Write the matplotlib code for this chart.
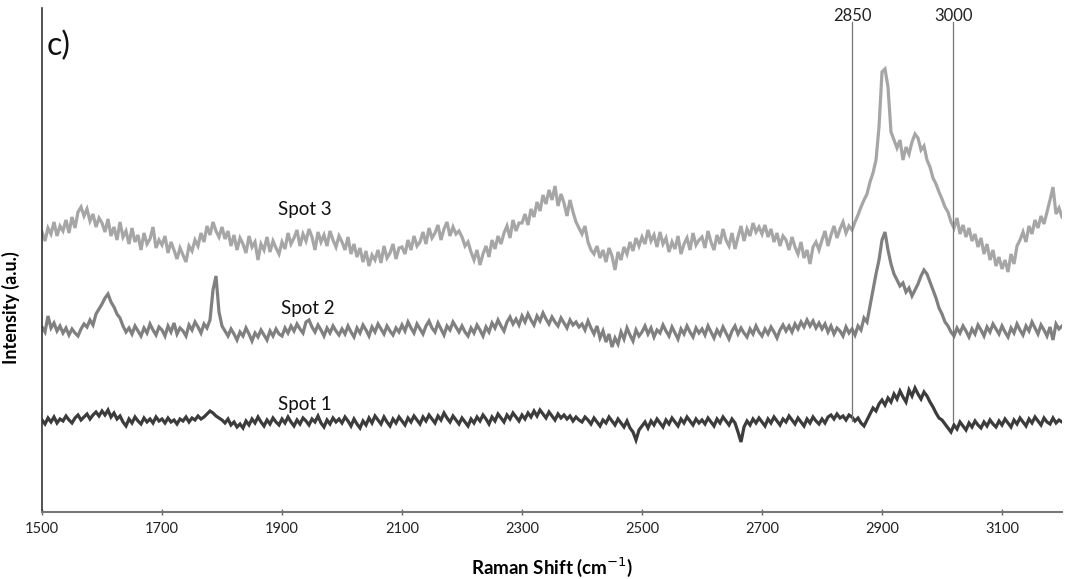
import numpy as np
import matplotlib
matplotlib.use("Agg")
import matplotlib.pyplot as plt

plt.rcParams['font.family'] = ['Lato', 'DejaVu Sans']

shift_start, shift_step = 1500, 5

spot3 = [
    280, 271, 284, 278, 290, 276, 286, 281, 292, 279, 295, 284, 300, 305, 296, 303, 291, 298, 285, 294,
    289, 280, 293, 276, 285, 272, 290, 275, 281, 268, 284, 270, 277, 262, 279, 268, 273, 285, 264, 272,
    267, 276, 259, 270, 262, 253, 264, 257, 250, 266, 261, 272, 266, 279, 270, 286, 277, 290, 281, 275,
    285, 273, 281, 266, 277, 262, 274, 268, 259, 276, 265, 270, 252, 268, 262, 275, 260, 271, 264, 258,
    270, 263, 279, 268, 274, 282, 266, 278, 271, 283, 275, 262, 280, 270, 277, 266, 281, 272, 265, 276,
    270, 262, 275, 258, 268, 255, 264, 250, 261, 246, 257, 252, 262, 249, 266, 254, 259, 268, 253, 264,
    265, 258, 272, 262, 276, 266, 270, 280, 268, 284, 274, 279, 287, 272, 283, 290, 276, 285, 278, 281,
    275, 266, 270, 260, 252, 262, 247, 258, 266, 255, 272, 263, 276, 268, 279, 286, 274, 292, 281, 289,
    289, 298, 287, 303, 295, 310, 301, 317, 308, 322, 312, 326, 306, 318, 309, 296, 312, 300, 290, 284,
    278, 286, 270, 262, 258, 266, 254, 262, 250, 264, 256, 242, 260, 252, 265, 258, 270, 261, 274, 266,
    275, 268, 282, 271, 277, 265, 280, 268, 274, 260, 270, 263, 276, 258, 268, 274, 262, 279, 267, 272,
    275, 264, 281, 270, 262, 277, 268, 283, 272, 266, 279, 263, 275, 286, 271, 283, 276, 289, 280, 285,
    278, 287, 275, 283, 270, 279, 266, 276, 272, 262, 275, 265, 258, 270, 254, 262, 248, 265, 270, 262,
    272, 281, 266, 277, 286, 274, 283, 290, 279, 286, 282, 290, 297, 305, 312, 318, 330, 339, 352, 385,
    440, 443, 425, 380, 372, 364, 372, 352, 365, 358, 370, 378, 374, 362, 366, 352, 345, 334, 328, 320,
    313, 305, 300, 290, 284, 294, 278, 287, 275, 284, 271, 278, 265, 274, 258, 268, 252, 262, 246, 255,
    243, 252, 240, 258, 248, 266, 272, 280, 270, 286, 278, 292, 284, 296, 288, 300, 312, 325, 298, 304,
    295,
]

spot2 = [
    185, 180, 196, 184, 189, 181, 186, 179, 184, 177, 183, 179, 176, 183, 188, 185, 192, 187, 198, 203,
    208, 214, 218, 210, 205, 198, 194, 186, 180, 184, 178, 186, 181, 176, 184, 179, 188, 182, 177, 185,
    182, 176, 186, 180, 189, 178, 184, 181, 176, 187, 182, 190, 185, 179, 188, 184, 192, 222, 236, 200,
    186, 181, 176, 183, 178, 172, 180, 176, 184, 178, 171, 179, 175, 182, 177, 172, 181, 176, 183, 178,
    176, 184, 179, 186, 181, 188, 183, 179, 190, 192, 185, 180, 187, 182, 176, 184, 179, 186, 181, 177,
    183, 178, 186, 180, 175, 184, 179, 187, 182, 176, 185, 180, 188, 183, 178, 186, 181, 177, 184, 180,
    187, 181, 190, 184, 179, 188, 183, 178, 186, 191, 184, 180, 189, 183, 177, 186, 182, 190, 185, 180,
    186, 180, 176, 184, 179, 187, 182, 176, 185, 180, 189, 184, 192, 186, 181, 190, 195, 188, 193, 187,
    196, 190, 198, 192, 187, 196, 191, 199, 193, 188, 195, 190, 186, 194, 189, 184, 192, 187, 190, 185,
    188, 182, 191, 184, 178, 186, 174, 181, 170, 178, 165, 174, 168, 180, 173, 184, 177, 171, 182, 176,
    180, 186, 178, 184, 175, 182, 179, 187, 181, 176, 185, 179, 173, 183, 178, 186, 180, 175, 184, 179,
    183, 177, 186, 180, 174, 182, 177, 185, 179, 173, 181, 186, 178, 184, 179, 175, 183, 178, 186, 180,
    176, 183, 178, 185, 180, 174, 182, 187, 181, 186, 180, 188, 183, 190, 185, 192, 186, 191, 184, 189,
    183, 188, 180, 186, 178, 184, 181, 176, 185, 179, 183, 177, 186, 182, 194, 190, 206, 222, 238, 252,
    272, 280, 262, 248, 238, 232, 226, 229, 220, 224, 216, 222, 228, 236, 242, 238, 230, 222, 214, 204,
    198, 190, 186, 180, 176, 184, 179, 186, 181, 175, 183, 178, 187, 182, 176, 185, 180, 188, 183, 178,
    186, 180, 175, 184, 179, 188, 182, 177, 186, 181, 190, 184, 178, 187, 182, 176, 185, 172, 188, 183,
    186,
]

spot1 = [
    92, 88, 94, 90, 95, 89, 93, 91, 96, 92, 89, 94, 97, 92, 95, 98, 93, 97, 100, 96,
    101, 97, 102, 95, 99, 93, 96, 90, 86, 93, 89, 95, 91, 88, 94, 90, 93, 89, 95, 91,
    93, 89, 94, 90, 92, 88, 93, 91, 95, 90, 94, 92, 96, 93, 95, 98, 101, 99, 96, 94,
    92, 89, 93, 87, 90, 85, 88, 84, 91, 87, 93, 89, 95, 90, 86, 92, 88, 94, 90, 87,
    93, 89, 95, 90, 86, 92, 88, 94, 91, 87, 93, 90, 96, 89, 85, 92, 88, 94, 90, 93,
    89, 95, 91, 86, 93, 88, 84, 91, 87, 94, 89, 96, 92, 88, 95, 90, 86, 93, 89, 95,
    91, 87, 94, 90, 96, 92, 88, 95, 91, 97, 93, 89, 96, 92, 99, 94, 90, 96, 92, 88,
    94, 90, 86, 93, 89, 95, 91, 97, 93, 88, 95, 91, 98, 94, 90, 97, 93, 99, 95, 91,
    97, 93, 99, 95, 101, 96, 102, 98, 94, 100, 96, 92, 98, 94, 97, 93, 96, 91, 95, 92,
    90, 95, 92, 88, 94, 90, 86, 92, 89, 95, 91, 87, 93, 89, 85, 91, 84, 80, 72, 82,
    86, 90, 84, 91, 87, 93, 89, 85, 92, 88, 94, 90, 86, 93, 89, 95, 91, 87, 93, 89,
    92, 88, 94, 90, 86, 93, 89, 95, 91, 87, 93, 89, 80, 70, 85, 91, 87, 93, 89, 94,
    90, 86, 93, 89, 95, 91, 87, 93, 90, 96, 92, 88, 94, 90, 86, 93, 89, 95, 91, 88,
    93, 89, 95, 97, 93, 98, 94, 96, 92, 97, 95, 91, 94, 89, 86, 92, 98, 104, 101, 108,
    112, 107, 114, 110, 118, 113, 121, 115, 110, 122, 116, 124, 118, 113, 120, 116, 110, 105, 99, 94,
    92, 88, 84, 80, 87, 83, 90, 86, 82, 89, 85, 91, 87, 84, 90, 86, 92, 88, 85, 91,
    87, 93, 89, 85, 92, 88, 94, 90, 86, 93, 89, 95, 91, 87, 94, 90, 88, 94, 89, 92,
    90,
]

series_names = ["Spot 3", "Spot 2", "Spot 1"]
series_colors = ["#a6a6a6", "#808080", "#3c3c3c"]
label_pos = [(1938, 294), (1943, 195), (1938, 99)]   # (shift, intensity) of the text labels
marker_shifts = [2850, 3019]
marker_labels = ["2850", "3000"]
x_ticks = [1500, 1700, 1900, 2100, 2300, 2500, 2700, 2900, 3100]

shift = shift_start + shift_step * np.arange(len(spot1))

fig = plt.figure(figsize=(10.68, 5.79), dpi=100)
ax = fig.add_axes([42/1068, 67/579, 1020/1068, 504/579])

for ys, c in zip([spot3, spot2, spot1], series_colors):
    ax.plot(shift, ys, color=c, lw=2.3, solid_joinstyle='miter')

for name, (lx, ly) in zip(series_names, label_pos):
    ax.text(lx, ly, name, fontsize=13.5, ha='center', va='bottom', color='#111111')

for xm, lab in zip(marker_shifts, marker_labels):
    ax.axvline(xm, ymin=0.18, ymax=0.972, color='#777777', lw=0.9)
    ax.text(xm, 488, lab, fontsize=12, ha='center', va='bottom', color='#222222')

ax.text(1508, 466, "c)", fontsize=23, ha='left', va='center', color='#111111')

ax.set_xlim(1500, 3200)
ax.set_ylim(0, 504)
ax.set_xticks(x_ticks)
ax.set_xticklabels([str(t) for t in x_ticks], fontsize=10.5, color='#222222')
ax.set_yticks([])
ax.tick_params(axis='x', direction='inout', length=5, width=1, color='#666666', pad=5)
for s in ['top', 'right']:
    ax.spines[s].set_visible(False)
ax.spines['left'].set_color('#333333')
ax.spines['bottom'].set_color('#777777')
ax.spines['left'].set_linewidth(1.2)
ax.spines['bottom'].set_linewidth(1.5)

ax.set_xlabel("Raman Shift (cm$^{-1}$)", fontsize=13.5, fontweight='bold', labelpad=14)
ax.set_ylabel("Intensity (a.u.)", fontsize=13, fontweight='bold')
ax.yaxis.set_label_coords(-0.022, 0.405)

fig.savefig("out.png", dpi=100, facecolor='white')
